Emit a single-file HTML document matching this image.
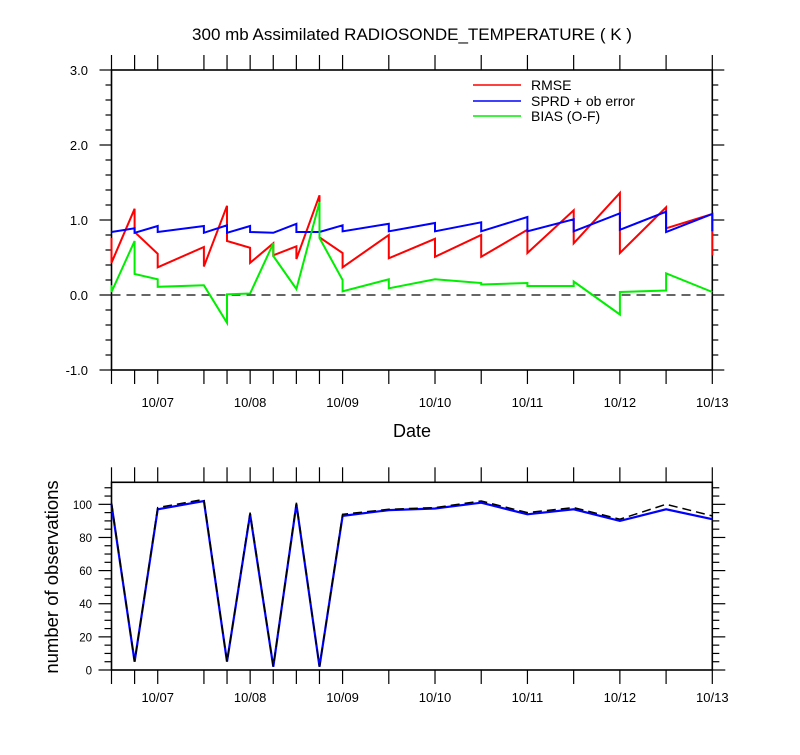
<!DOCTYPE html>
<html><head><meta charset="utf-8"><style>
body{margin:0;background:#fff;}
svg text{font-family:"Liberation Sans",Arial,sans-serif;fill:#000;}
</style></head><body>
<svg id="c" width="800" height="750" xmlns="http://www.w3.org/2000/svg">
<text x="412" y="40" font-size="17" text-anchor="middle">300 mb Assimilated RADIOSONDE_TEMPERATURE ( K )</text>
<text x="412" y="437" font-size="18" text-anchor="middle">Date</text>
<text x="0" y="0" font-size="18.5" text-anchor="middle" transform="translate(58,577) rotate(-90)">number of observations</text>
<g id="legend">
<line x1="473" y1="85" x2="521" y2="85" stroke="#f00" stroke-width="1.5"/>
<text x="531" y="90" font-size="14">RMSE</text>
<line x1="473" y1="101" x2="521" y2="101" stroke="#00f" stroke-width="1.5"/>
<text x="531" y="106" font-size="14">SPRD + ob error</text>
<line x1="473" y1="116" x2="521" y2="116" stroke="#0e0" stroke-width="1.5"/>
<text x="531" y="121" font-size="14">BIAS (O-F)</text>
</g>
</svg>
<script>
const times=[6.5,6.75,7.0,7.5,7.75,8.0,8.25,8.5,8.75,9.0,9.5,10,10.5,11,11.5,12,12.5,13];
const dateTicks=[7,8,9,10,11,12,13];
const dateLabels=["10/07","10/08","10/09","10/10","10/11","10/12","10/13"];
const rmseArrive=[0.76,1.15,0.55,0.64,1.19,0.63,0.69,0.65,1.33,0.56,0.80,0.75,0.80,0.87,1.13,1.36,1.17,1.08];
const rmseLeave=[0.43,0.84,0.37,0.38,0.72,0.43,0.53,0.48,0.77,0.37,0.49,0.51,0.51,0.56,0.69,0.56,0.89,0.53];
const sprdArrive=[0.84,0.89,0.92,0.92,0.93,0.92,0.83,0.95,0.84,0.93,0.95,0.96,0.97,1.04,1.01,1.09,1.11,1.08];
const sprdLeave=[0.84,0.83,0.84,0.83,0.83,0.84,0.83,0.84,0.84,0.85,0.85,0.85,0.85,0.85,0.85,0.87,0.84,0.85];
const biasArrive=[0.13,0.72,0.21,0.13,-0.37,0.02,0.69,0.08,1.24,0.20,0.21,0.21,0.16,0.16,0.12,-0.26,0.06,0.04];
const biasLeave=[0.04,0.28,0.11,0.13,0.01,0.02,0.52,0.08,0.76,0.05,0.09,0.21,0.14,0.12,0.18,0.04,0.29,0.04];
const obsUsed=[100,5,97,102,5,94,2,100,2,93,96.5,97.5,101,94,97,90,97,91];
const obsTotal=[101,5,98,103,5,95,2,101,2,94,97,98,102,95,98,91,100,93];
const topYTicks=[-1,0,1,2,3];
const topYLabels=["-1.0","0.0","1.0","2.0","3.0"];
const botYTicks=[0,20,40,60,80,100];

const svg=document.getElementById('c');
const NS="http://www.w3.org/2000/svg";
const X0=111.5,X1=712.3,D0=6.5,D1=13;
const xs=d=>X0+(d-D0)/(D1-D0)*(X1-X0);
const T_TOP=70,T_BOT=370,T_MIN=-1,T_MAX=3;
const yt=v=>T_BOT-(v-T_MIN)/(T_MAX-T_MIN)*(T_BOT-T_TOP);
const B_TOP=482.3,B_BOT=670,B_MIN=0,B_MAX=113.3;
const yb=v=>B_BOT-(v-B_MIN)/(B_MAX-B_MIN)*(B_BOT-B_TOP);
function mk(tag,attrs,parent){const e=document.createElementNS(NS,tag);for(const k in attrs)e.setAttribute(k,attrs[k]);(parent||svg).appendChild(e);return e;}
function ln(x1,y1,x2,y2,g){return mk('line',{x1,y1,x2,y2,stroke:'#000','stroke-width':1.2},g);}

function frame(top,bot,name){
  const g=mk('g',{});
  
  
  mk('rect',{x:X0,y:top,width:X1-X0,height:bot-top,fill:'none',stroke:'#000','stroke-width':1.6},g);
  times.forEach(t=>{ln(xs(t),top,xs(t),top-15,g);ln(xs(t),bot,xs(t),bot+14,g);});
  return g;
}
function sawPath(arr,lea,yf){
  let d='';
  times.forEach((t,i)=>{const x=xs(t).toFixed(1);d+=(i?'L':'M')+x+','+yf(arr[i]).toFixed(1)+'L'+x+','+yf(lea[i]).toFixed(1);});
  return d;
}
const gt=frame(T_TOP,T_BOT,'top-plot-frame');
for(let v=T_MIN;v<=T_MAX+1e-6;v+=0.2){
  const maj=Math.abs(v-Math.round(v))<1e-6;const L=maj?12:6;
  ln(X0,yt(v),X0-L,yt(v),gt);ln(X1,yt(v),X1+L,yt(v),gt);
}
topYTicks.forEach((v,i)=>{
  const t=mk('text',{x:88,y:yt(v)+5,'font-size':13,'text-anchor':'end'});t.textContent=topYLabels[i];
  
  
});
dateTicks.forEach((d,i)=>{
  const t=mk('text',{x:xs(d),y:407,'font-size':13,'text-anchor':'middle'});t.textContent=dateLabels[i];
  
  
  const b=mk('text',{x:xs(d),y:702,'font-size':13,'text-anchor':'middle'});b.textContent=dateLabels[i];
  
  
});
const zl=mk('line',{x1:X0,y1:yt(0),x2:X1,y2:yt(0),stroke:'#333','stroke-width':1.5,'stroke-dasharray':'9,6'});


[[rmseArrive,rmseLeave,'#f00','rmse-line'],[sprdArrive,sprdLeave,'#00f','sprd-line'],[biasArrive,biasLeave,'#0e0','bias-line']].forEach(s=>{
  const p=mk('path',{d:sawPath(s[0],s[1],yt),fill:'none',stroke:s[2],'stroke-width':2,'stroke-linejoin':'miter'});
  
  
});
const gb=frame(B_TOP,B_BOT,'bottom-plot-frame');
for(let v=0;v<=B_MAX;v+=5){
  const maj=v%20===0;const L=maj?13:7;
  ln(X0,yb(v),X0-L,yb(v),gb);ln(X1,yb(v),X1+L,yb(v),gb);
}
botYTicks.forEach(v=>{
  const t=mk('text',{x:92,y:yb(v)+4.5,'font-size':11.5,'text-anchor':'end'});t.textContent=String(v);
  
  
});
const lp=a=>times.map((t,i)=>(i?'L':'M')+xs(t).toFixed(1)+','+yb(a[i]).toFixed(1)).join('');
const pu=mk('path',{d:lp(obsUsed),fill:'none',stroke:'#00f','stroke-width':2.2});


const pt=mk('path',{d:lp(obsTotal),fill:'none',stroke:'#000','stroke-width':1.5,'stroke-dasharray':'9,5'});


</script>
</body></html>
